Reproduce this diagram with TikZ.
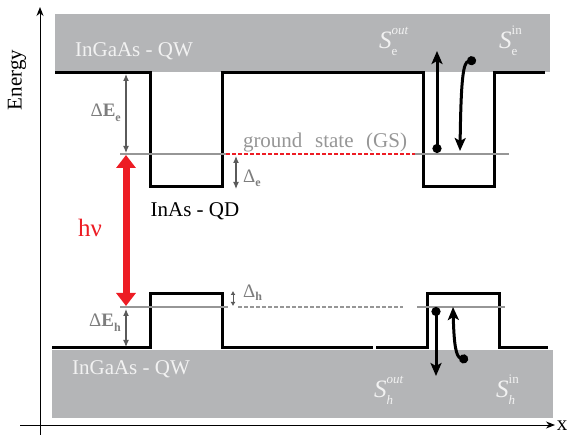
\documentclass[tikz,border=0pt]{standalone}
\usepackage{fontspec}
\setmainfont{Liberation Serif}
\usetikzlibrary{arrows.meta}
\definecolor{bandgray}{RGB}{180,181,183}
\definecolor{gsgray}{RGB}{150,150,150}
\definecolor{arrgray}{RGB}{90,90,90}
\definecolor{lblgray}{RGB}{125,125,125}
\definecolor{hvred}{RGB}{237,28,36}
\definecolor{bandtext}{RGB}{242,242,242}
\newcommand{\scr}{\fontsize{13}{13}\selectfont}
\newcommand{\carrierlbl}[3]{\fontsize{25}{25}\selectfont\textit{S}\rlap{\raisebox{14pt}{\scr #3}}\raisebox{-7pt}{\scr #2}}
\begin{document}
\begin{tikzpicture}[x=1pt,y=-1pt,
  band/.style={fill=bandgray,draw=none},
  edgeline/.style={line width=3pt,black,line join=miter},
  gsline/.style={line width=2.5pt,gsgray},
  gaparrow/.style={arrgray,line width=1.1pt,{Latex[length=7pt,width=6pt]}-{Latex[length=7pt,width=6pt]}},
  smallgap/.style={arrgray,line width=1pt,{Latex[length=4pt,width=5pt]}-{Latex[length=4pt,width=5pt]}},
  redarrow/.style={hvred,line width=7pt,{Triangle[length=13pt,width=19pt]}-{Triangle[length=13pt,width=19pt]}},
  carrier/.style={black,line width=3pt,{Circle[length=9pt]}-{Stealth[length=13pt,width=11pt,inset=3pt]}},
  axis/.style={black,line width=1pt,-{Stealth[length=9pt,width=7pt]}},
  big/.style={font=\fontsize{21}{24}\selectfont},
  bandlbl/.style={big,text=bandtext,inner sep=0pt,anchor=base},
  lbl/.style={big,inner sep=0pt,anchor=base}
]
\useasboundingbox (0,0) rectangle (570,435);

% bands
\fill[band] (55,14) rectangle (550,72);
\fill[band] (52,350) rectangle (553,418);

% axes
\coordinate (ybot) at (40,435);
\coordinate (ytop) at (40,7);
\coordinate (xl) at (20,425);
\coordinate (xr) at (555,425);
\draw[axis] (ybot) -- (ytop);
\draw[axis] (xl) -- (xr);
\node[lbl,anchor=center] (xlab) at (562,426) {x};
\node[big,rotate=90,inner sep=0pt] (energy) at (17,80) {Energy};

% band edges
\draw[edgeline] (55,73) -- (150,73) -- (150,187) -- (222,187) -- (222,73) -- (423,73) -- (423,187) -- (494,187) -- (494,73) -- (545,73);
\draw[edgeline] (52,348) -- (150,348) -- (150,294) -- (222,294) -- (222,348) -- (373,348);
\draw[edgeline] (376,348) -- (427,348) -- (427,294) -- (499,294) -- (499,348) -- (548,348);

% ground states
\draw[gsline] (120,154) -- (226,154);
\draw[gsline] (413,154) -- (509,154);
\draw[hvred,line width=1.1pt,dash pattern=on 4pt off 2pt] (226,154) -- (415,154);
\draw[gsline] (120,307) -- (228,307);
\draw[gsline] (417,307) -- (505,307);
\draw[gsgray,line width=1.1pt,dash pattern=on 4pt off 2pt] (238,307) -- (403,307);

% gap arrows
\coordinate (dEeT) at (126,74);
\coordinate (dEeB) at (126,153);
\draw[gaparrow] (dEeT) -- (dEeB);
\coordinate (deT) at (236,156);
\coordinate (deB) at (236,189);
\draw[gaparrow] (deT) -- (deB);
\coordinate (dEhT) at (126,309);
\coordinate (dEhB) at (126,347);
\draw[gaparrow] (dEhT) -- (dEhB);
\coordinate (dhT) at (233,291);
\coordinate (dhB) at (233,306);
\draw[smallgap] (dhT) -- (dhB);

% photon
\coordinate (hvT) at (126,155);
\coordinate (hvB) at (126,306);
\draw[redarrow] (hvT) -- (hvB);

% carrier arrows
\coordinate (eOutS) at (437,153);
\coordinate (eOutE) at (437,51);
\draw[carrier] (eOutS) -- (eOutE);
\coordinate (eInS) at (476,60);
\coordinate (eInE) at (460,151);
\draw[carrier] (eInS) .. controls (463,62) and (461,80) .. (eInE);
\coordinate (hOutS) at (436,307);
\coordinate (hOutE) at (436,376);
\draw[carrier] (hOutS) -- (hOutE);
\coordinate (hInS) at (468,360);
\coordinate (hInE) at (453,307);
\draw[carrier] (hInS) .. controls (456,357) and (454,345) .. (hInE);

% labels
\node[bandlbl] (qwtop) at (134,57) {InGaAs - QW};
\node[bandlbl] (qwbot) at (131,374) {InGaAs - QW};
\node[lbl] (qd) at (195,217) {InAs - QD};
\node[lbl,text=gsgray] (gs) at (325,148) {ground\hspace{0.6em}state\hspace{0.6em}(GS)};
\node[lbl,text=hvred,font=\fontsize{25}{28}\selectfont] (hv) at (90,237) {hν};
\node[lbl,text=lblgray,anchor=base east,font=\fontsize{19}{22}\selectfont] (dEe) at (121,117) {Δ\textbf{E}\raisebox{-5pt}{\fontsize{12}{12}\selectfont\textbf{e}}};
\node[lbl,text=lblgray,anchor=base east,font=\fontsize{19}{22}\selectfont] (dEh) at (121,327) {Δ\textbf{E}\raisebox{-5pt}{\fontsize{12}{12}\selectfont\textbf{h}}};
\node[lbl,text=lblgray,anchor=base west,font=\fontsize{19}{22}\selectfont] (de) at (243,183) {Δ\raisebox{-4pt}{\fontsize{12}{12}\selectfont\textbf{e}}};
\node[lbl,text=lblgray,anchor=base west,font=\fontsize{19}{22}\selectfont] (dh) at (243,298) {Δ\raisebox{-3pt}{\fontsize{12}{12}\selectfont\textbf{h}}};
\node[bandlbl,anchor=base west] (seout) at (379,49) {\carrierlbl{S}{e}{\itshape out}};
\node[bandlbl,anchor=base west] (sein) at (499,49) {\carrierlbl{S}{e}{in}};
\node[bandlbl,anchor=base west] (shout) at (374,397) {\carrierlbl{S}{\itshape h}{\itshape out}};
\node[bandlbl,anchor=base west] (shin) at (496,397) {\carrierlbl{S}{\itshape h}{in}};
\end{tikzpicture}
\end{document}
